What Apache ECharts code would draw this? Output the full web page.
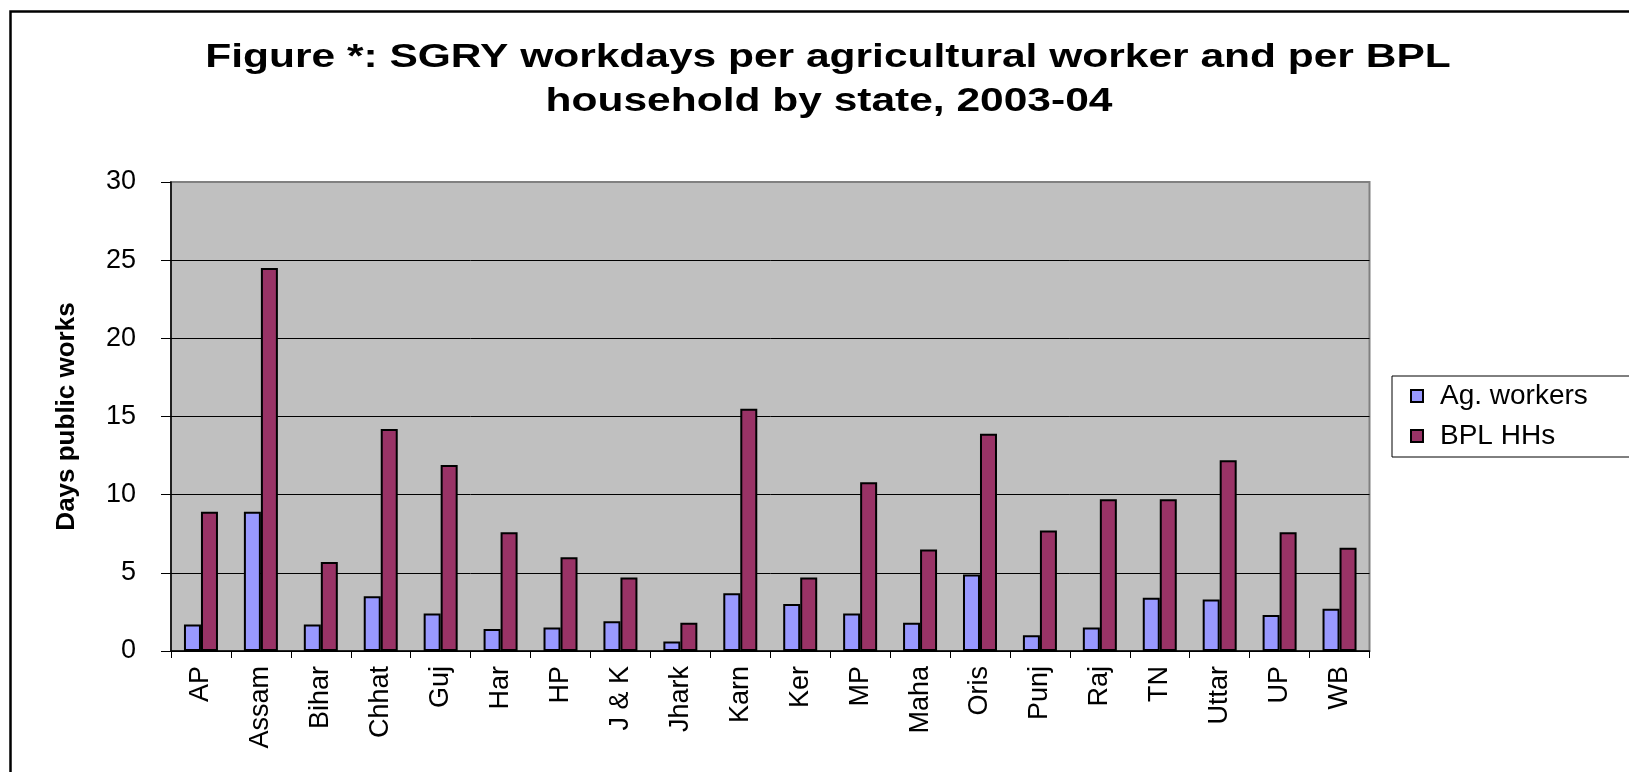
<!DOCTYPE html>
<html>
<head>
<meta charset="utf-8">
<script src="https://cdn.jsdelivr.net/npm/echarts@6/dist/echarts.min.js"></script>
<style>
html,body{margin:0;padding:0;background:#fff;}
#chart{width:1629px;height:772px;}
</style>
</head>
<body>
<div id="chart"></div>
<script>
var titleLines = ['Figure *: SGRY workdays per agricultural worker and per BPL', 'household by state, 2003-04'];
var yAxisName = 'Days public works';
var categories = ['AP','Assam','Bihar','Chhat','Guj','Har','HP','J & K','Jhark','Karn','Ker','MP','Maha','Oris','Punj','Raj','TN','Uttar','UP','WB'];
var seriesNames = ['Ag. workers', 'BPL HHs'];
var agWorkers = [1.7, 8.9, 1.7, 3.5, 2.4, 1.4, 1.5, 1.9, 0.6, 3.7, 3.0, 2.4, 1.8, 4.9, 1.0, 1.5, 3.4, 3.3, 2.3, 2.7];
var bplHHs = [8.9, 24.5, 5.7, 14.2, 11.9, 7.6, 6.0, 4.7, 1.8, 15.5, 4.7, 10.8, 6.5, 13.9, 7.7, 9.7, 9.7, 12.2, 7.6, 6.6];
var yMin = 0, yMax = 30, yInterval = 5;

var FONT = '"Liberation Sans", Arial, sans-serif';
var chart = echarts.init(document.getElementById('chart'), null, {renderer: 'canvas'});
chart.setOption({
  animation: false,
  backgroundColor: '#fff',
  textStyle: {fontFamily: FONT, color: '#000'},
  graphic: [
    {type: 'rect', silent: true, z: -10,
     shape: {x: 10.5, y: 11.5, width: 1800, height: 900},
     style: {fill: null, stroke: '#000', lineWidth: 2.5}},
    {type: 'text', x: 828, y: 58, scaleX: 1.25, scaleY: 1, z: 10,
     style: {text: titleLines[0], font: 'bold 34px ' + FONT, fill: '#000', align: 'center', verticalAlign: 'middle'}},
    {type: 'text', x: 829, y: 102, scaleX: 1.25, scaleY: 1, z: 10,
     style: {text: titleLines[1], font: 'bold 34px ' + FONT, fill: '#000', align: 'center', verticalAlign: 'middle'}}
  ],
  legend: {
    orient: 'vertical',
    left: 1392, top: 376,
    padding: [6, 200, 7, 18],
    borderColor: '#000', borderWidth: 1,
    itemWidth: 12, itemHeight: 12, itemGap: 12,
    icon: 'rect',
    textStyle: {fontSize: 28, lineHeight: 28, fontFamily: FONT, color: '#000', padding: [0, 0, 0, 12]},
    data: seriesNames
  },
  grid: {
    left: 171, right: 259.5, top: 182, bottom: 121,
    show: true, backgroundColor: '#C0C0C0', borderColor: '#808080', borderWidth: 2
  },
  xAxis: {
    type: 'category',
    data: categories,
    axisLine: {lineStyle: {color: '#000', width: 1.5}},
    axisTick: {show: true, length: 7, lineStyle: {color: '#000', width: 1}},
    axisLabel: {rotate: 90, fontSize: 27, color: '#000', margin: 15, fontFamily: FONT, interval: 0}
  },
  yAxis: {
    type: 'value',
    min: yMin, max: yMax, interval: yInterval,
    name: yAxisName,
    nameLocation: 'middle',
    nameGap: 91,
    nameRotate: 90,
    nameTextStyle: {fontSize: 26, fontWeight: 'bold', color: '#000', fontFamily: FONT},
    axisLine: {show: true, lineStyle: {color: '#000', width: 1.5}},
    axisTick: {show: true, length: 10, lineStyle: {color: '#000', width: 1}},
    axisLabel: {fontSize: 27, color: '#000', margin: 35, fontFamily: FONT},
    splitLine: {show: true, lineStyle: {color: ['#000','#000','#000','#000','#000','#000','#808080'], width: 1}}
  },
  series: [
    {name: seriesNames[0], type: 'bar', data: agWorkers, barWidth: 17, barGap: '0%',
     itemStyle: {color: '#9999FF', borderColor: '#000', borderWidth: 2}},
    {name: seriesNames[1], type: 'bar', data: bplHHs, barWidth: 17, barGap: '0%',
     itemStyle: {color: '#993366', borderColor: '#000', borderWidth: 2}}
  ]
});
</script>
</body>
</html>
